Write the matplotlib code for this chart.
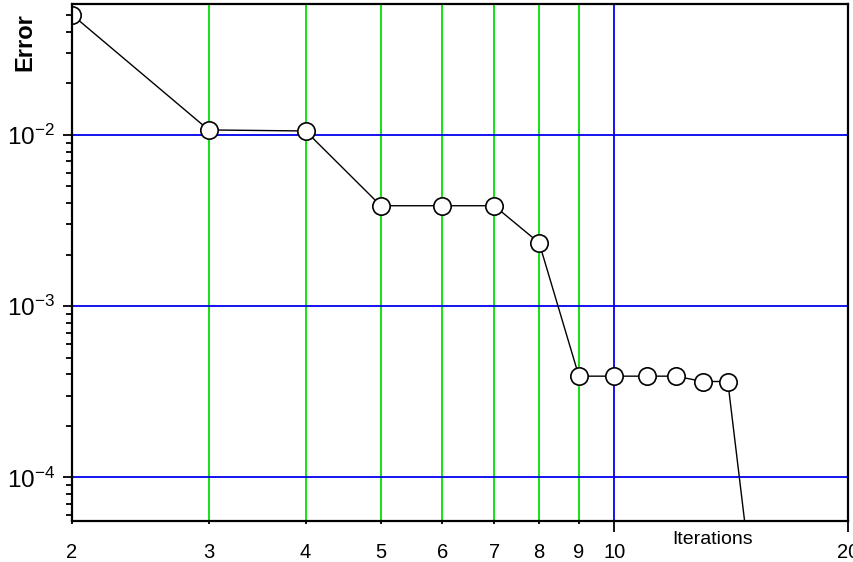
import matplotlib
matplotlib.use("Agg")
import matplotlib.pyplot as plt
from matplotlib.ticker import FixedLocator, NullFormatter, FixedFormatter

plt.rcParams['font.family'] = ['Liberation Sans', 'DejaVu Sans']
plt.rcParams['mathtext.fontset'] = 'custom'
plt.rcParams['mathtext.rm'] = 'Liberation Sans'
plt.rcParams['mathtext.it'] = 'Liberation Sans:italic'
plt.rcParams['mathtext.bf'] = 'Liberation Sans:bold'

# Data
iterations = [2, 3, 4, 5, 6, 7, 8, 9, 10, 11, 12, 13, 14, 15]
errors = [0.0504, 0.0107, 0.01055, 0.00386, 0.00386, 0.00386, 0.00234,
          3.9e-4, 3.9e-4, 3.9e-4, 3.9e-4, 3.63e-4, 3.63e-4, 2.7e-5]
x_major = [10, 20]
x_minor = [2, 3, 4, 5, 6, 7, 8, 9]
x_labels_major = ["10", "20"]
x_labels_minor = ["2", "3", "4", "5", "6", "7", "8", "9"]
green_lines = [3, 4, 5, 6, 7, 8, 9]
blue_vlines = [10]
y_major = [1e-4, 1e-3, 1e-2]
y_labels = [r"$10^{-4}$", r"$10^{-3}$", r"$10^{-2}$"]

W, H = 854, 562
fig = plt.figure(figsize=(W / 100, H / 100), dpi=100)
ax = fig.add_axes([72 / W, (H - 521) / H, (848 - 72) / W, (521 - 4) / H])
ax.set_xscale('log')
ax.set_yscale('log')
ax.set_xlim(2, 20)
ax.set_ylim(5.56e-5, 0.0582)

# grid lines
for xv in green_lines:
    ax.axvline(xv, color='#00e000', lw=1.3, zorder=1)
for xv in blue_vlines:
    ax.axvline(xv, color='#0000ee', lw=1.3, zorder=1)
for yv in y_major:
    ax.axhline(yv, color='#0000ee', lw=1.3, zorder=1)

ax.plot(iterations, errors, color='black', lw=1.0, marker='o', ms=12.5,
        mfc='white', mec='black', mew=1.2, zorder=3, clip_on=True)

# ticks
ax.xaxis.set_major_locator(FixedLocator(x_major))
ax.xaxis.set_major_formatter(FixedFormatter(x_labels_major))
ax.xaxis.set_minor_locator(FixedLocator(x_minor))
ax.xaxis.set_minor_formatter(FixedFormatter(x_labels_minor))
ax.tick_params(axis='x', which='major', direction='out', length=8, width=1.3,
               labelsize=14.5, pad=7.5)
ax.tick_params(axis='x', which='minor', direction='out', length=2.5, width=1.3,
               labelsize=14.5, pad=13)

ax.yaxis.set_major_locator(FixedLocator(y_major))
ax.yaxis.set_major_formatter(FixedFormatter(y_labels))
ymin = []
for d in [1e-5, 1e-4, 1e-3, 1e-2]:
    for k in range(2, 10):
        ymin.append(k * d)
ax.yaxis.set_minor_locator(FixedLocator(ymin))
ax.yaxis.set_minor_formatter(NullFormatter())
ax.tick_params(axis='y', which='major', direction='out', length=6.5, width=1.3,
               labelsize=17.5, pad=6)
ax.tick_params(axis='y', which='minor', direction='out', length=4, width=1.3)

for s in ax.spines.values():
    s.set_linewidth(1.6)
    s.set_zorder(4)

fig.text(25 / W, 1 - 42 / H, "Error", rotation=90, fontsize=17,
         fontweight='bold', ha='center', va='center')
fig.text(713 / W, 1 - 539 / H, "Iterations", fontsize=14,
         ha='center', va='center')

fig.savefig("out.png", dpi=100)
